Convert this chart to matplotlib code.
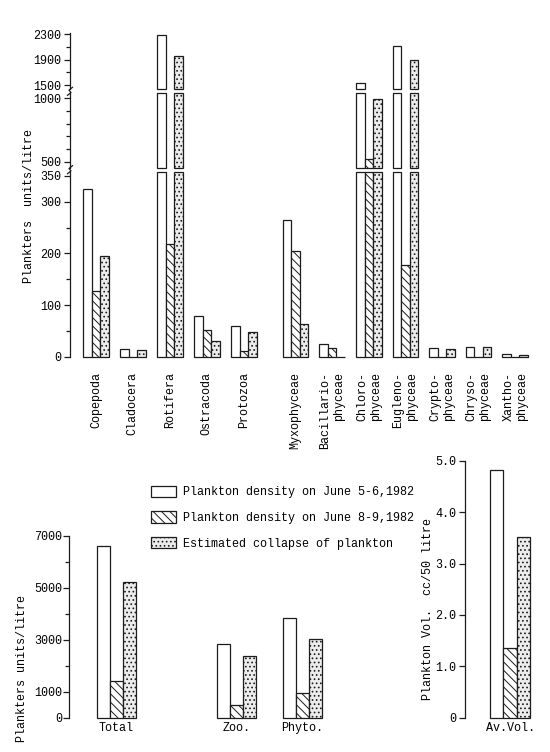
import numpy as np
import matplotlib
matplotlib.use("Agg")
import matplotlib.pyplot as plt
from matplotlib.lines import Line2D

# group data (plankters units / litre)
zoo_groups = ["Copepoda", "Cladocera", "Rotifera", "Ostracoda", "Protozoa"]
phyto_groups = ["Myxophyceae", "Bacillario-\nphyceae", "Chloro-\nphyceae",
                "Eugleno-\nphyceae", "Crypto-\nphyceae", "Chryso-\nphyceae",
                "Xantho-\nphyceae"]
june_5_6 = [325, 14, 2290, 78, 60, 265, 24, 1530, 2110, 16, 19, 5]
june_8_9 = [128, 0, 218, 51, 11, 205, 17, 520, 177, 0, 0, 0]
collapse = [195, 13, 1950, 31, 47, 63, 0, 990, 1890, 14, 18, 4]

# summary data
sum_labels = ["Total", "Zoo.", "Phyto."]
sum_5_6 = [6600, 2840, 3850]
sum_8_9 = [1410, 480, 940]
sum_collapse = [5240, 2380, 3030]

vol_labels = ["Av.Vol."]
vol_5_6 = [4.82]
vol_8_9 = [1.36]
vol_collapse = [3.51]

legend_labels = ["Plankton density on June 5-6,1982",
                 "Plankton density on June 8-9,1982",
                 "Estimated collapse of plankton"]

plt.rcParams["font.family"] = ["Liberation Mono", "DejaVu Sans Mono"]
plt.rcParams["hatch.linewidth"] = 0.7
FS = 8.5
INK = "#1c1c1c"

W, H = 550, 752
fig = plt.figure(figsize=(W / 100, H / 100), dpi=100)


def px_axes(x0, x1, ytop, ybot):
    return fig.add_axes([x0 / W, 1 - ybot / H, (x1 - x0) / W, (ybot - ytop) / H])


styles = [dict(facecolor="white", hatch=None),
          dict(facecolor="white", hatch="\\\\\\\\"),
          dict(facecolor="#ececec", hatch="....")]


def style_axis(ax):
    for s in ["top", "right", "bottom"]:
        ax.spines[s].set_visible(False)
    ax.spines["left"].set_color(INK)
    ax.spines["left"].set_linewidth(0.9)
    ax.tick_params(axis="y", which="both", direction="out", color=INK,
                   labelsize=FS, pad=2, width=0.9)
    ax.tick_params(axis="y", which="major", length=4)
    ax.tick_params(axis="y", which="minor", length=3)
    ax.tick_params(axis="x", length=0)


# ---- top chart: broken y-axis in three pieces ----
x_zoo = np.arange(len(zoo_groups))
x_phy = 5.4 + np.arange(len(phyto_groups)) * 0.99
xc = np.concatenate([x_zoo, x_phy])
bw = 0.23
series = [june_5_6, june_8_9, collapse]

segments = [(0, 358, 171.7, 356.7), (455, 1037, 93.3, 167.7), (1433, 2316, 33, 89.3)]
seg_axes = []
handles = []
for k, (lo, hi, ytop, ybot) in enumerate(segments):
    ax = px_axes(70, 530, ytop, ybot)
    style_axis(ax)
    for i, vals in enumerate(series):
        vals = np.array(vals, dtype=float)
        show = vals > lo if k > 0 else np.ones(len(vals), bool)
        top = np.minimum(vals[show], hi)
        bars = ax.bar(xc[show] + (i - 1) * bw, top - lo, bw, bottom=lo,
                      edgecolor=INK, linewidth=0.9, clip_on=False, **styles[i])
        if k == 0:
            handles.append(bars)
    ax.set_ylim(lo, hi)
    ax.set_xlim(-0.7, 11.74)
    seg_axes.append(ax)

ax1, ax2, ax3 = seg_axes
ax1.set_yticks([0, 100, 200, 300, 350])
ax1.set_yticks([50, 150, 250], minor=True)
ax2.set_yticks([500, 1000])
ax2.set_yticks([600, 700, 800, 900], minor=True)
ax3.set_yticks([1500, 1900, 2300])
ax3.set_yticks([1700, 2100], minor=True)
for ax in (ax2, ax3):
    ax.set_xticks([])

ax1.set_xticks(xc)
ax1.set_xticklabels(zoo_groups + phyto_groups, rotation=90, va="top",
                    ha="center", fontsize=FS)
for lbl in ax1.get_xticklabels():
    lbl.set_multialignment("right")
ax1.tick_params(axis="x", pad=11)

# break marks on the spine
for yb in (169.7, 91.3):
    pts = np.array([(-2.5, 4), (1, 1.2), (-1, -1.2), (2.5, -4)])
    fig.add_artist(Line2D((70 + pts[:, 0]) / W, 1 - (yb + pts[:, 1]) / H,
                          color=INK, lw=0.9))

fig.text(29 / W, 1 - 206 / H, "Plankters  units/litre", rotation=90,
         ha="center", va="center", fontsize=FS)

# ---- bottom left: totals ----
ax4 = px_axes(69, 335, 536, 717.7)
style_axis(ax4)
xs = np.array([0, 1.84, 2.84])
for i, vals in enumerate([sum_5_6, sum_8_9, sum_collapse]):
    ax4.bar(xs + (i - 1) * 0.2, vals, 0.2, edgecolor=INK, linewidth=0.9,
            clip_on=False, **styles[i])
ax4.set_ylim(0, 7000)
ax4.set_xlim(-0.725, 3.34)
ax4.set_yticks([0, 1000, 3000, 5000, 7000])
ax4.set_yticks([2000, 4000, 6000], minor=True)
ax4.set_xticks(xs)
ax4.set_xticklabels(sum_labels, fontsize=FS)
ax4.tick_params(axis="x", pad=3)
ax4.tick_params(axis="y", pad=1)
fig.text(22 / W, 1 - 668 / H, "Plankters units/litre", rotation=90,
         ha="center", va="center", fontsize=FS)

# ---- bottom right: average volume ----
ax5 = px_axes(465, 545, 460.7, 717.7)
style_axis(ax5)
xv = np.array([0.0])
for i, vals in enumerate([vol_5_6, vol_8_9, vol_collapse]):
    ax5.bar(xv + (i - 1) * 0.2, vals, 0.2, edgecolor=INK, linewidth=0.9,
            clip_on=False, **styles[i])
ax5.set_ylim(0, 5)
ax5.set_xlim(-0.677, 0.526)
ax5.set_yticks([0, 1, 2, 3, 4, 5])
ax5.set_yticklabels(["0", "1.0", "2.0", "3.0", "4.0", "5.0"])
ax5.set_xticks(xv)
ax5.set_xticklabels(vol_labels, fontsize=FS)
ax5.tick_params(axis="x", pad=3)
fig.text(428 / W, 1 - 609 / H, "Plankton Vol.  cc/50 litre", rotation=90,
         ha="center", va="center", fontsize=FS)

# legend
fig.legend(handles, legend_labels, loc="upper left",
           bbox_to_anchor=(146 / W, 1 - 481 / H), frameon=False,
           fontsize=FS, handlelength=2.1, handleheight=1.1,
           labelspacing=1.1, handletextpad=0.6, borderaxespad=0)

fig.savefig("out.png", dpi=100, facecolor="white")
